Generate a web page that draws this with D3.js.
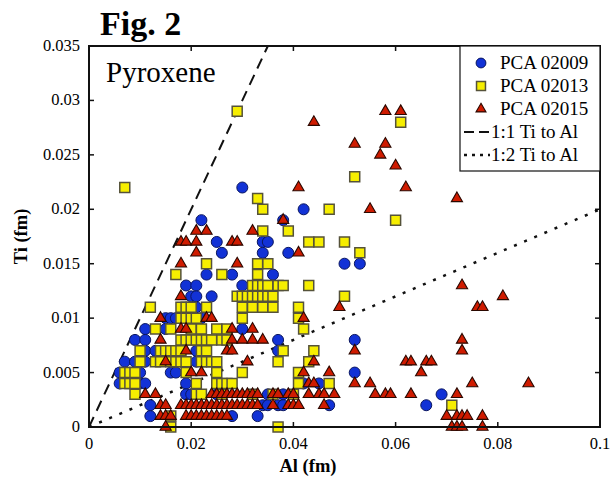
<!DOCTYPE html>
<html>
<head>
<meta charset="utf-8">
<title>Fig. 2 Pyroxene</title>
<script src="https://d3js.org/d3.v7.min.js"></script>
<style>
  body { margin: 0; background: #fff; }
  svg { display: block; font-family: "Liberation Serif", "Times New Roman", serif; }
</style>
</head>
<body>
<svg id="chart" width="615" height="483"></svg>
<script>
// rows of [Ti, [Al values]] in fm
const pca02009 = [
  [0.022, [0.030]],
  [0.020, [0.042]],
  [0.019, [0.022, 0.038]],
  [0.017, [0.025, 0.034, 0.035]],
  [0.016, [0.026, 0.034, 0.039]],
  [0.015, [0.050, 0.053]],
  [0.014, [0.023, 0.028, 0.036]],
  [0.013, [0.019, 0.021, 0.030]],
  [0.012, [0.020, 0.021, 0.024]],
  [0.011, [0.021]],
  [0.010, [0.015, 0.016, 0.017, 0.022]],
  [0.009, [0.011, 0.015, 0.030]],
  [0.008, [0.009, 0.011, 0.037, 0.052]],
  [0.007, [0.011, 0.013, 0.021, 0.037]],
  [0.006, [0.007, 0.009, 0.011, 0.021]],
  [0.005, [0.006, 0.010, 0.016, 0.017, 0.052]],
  [0.004, [0.006, 0.010, 0.011, 0.019, 0.042, 0.045]],
  [0.003, [0.019, 0.020, 0.025, 0.035, 0.038, 0.069]],
  [0.002, [0.012, 0.034, 0.035, 0.037, 0.038, 0.047, 0.066]],
  [0.001, [0.012, 0.028, 0.033]]
];

const pca02013 = [
  [0.029, [0.029]],
  [0.028, [0.061]],
  [0.023, [0.052]],
  [0.022, [0.007]],
  [0.021, [0.033]],
  [0.020, [0.034, 0.047]],
  [0.019, [0.060]],
  [0.018, [0.034, 0.039]],
  [0.017, [0.043, 0.045, 0.050]],
  [0.016, [0.053]],
  [0.015, [0.023, 0.033, 0.035]],
  [0.014, [0.017, 0.026, 0.033]],
  [0.013, [0.032, 0.033, 0.034, 0.035, 0.037, 0.038, 0.043]],
  [0.012, [0.029, 0.030, 0.031, 0.032, 0.033, 0.034, 0.035, 0.036, 0.050]],
  [0.011, [0.012, 0.018, 0.019, 0.020, 0.023, 0.030, 0.032, 0.034, 0.036, 0.041]],
  [0.010, [0.018, 0.019, 0.020, 0.021, 0.030, 0.041]],
  [0.009, [0.013, 0.016, 0.020, 0.022, 0.025, 0.027, 0.042]],
  [0.008, [0.018, 0.019, 0.020, 0.021, 0.022, 0.023, 0.024, 0.026, 0.027]],
  [0.007, [0.010, 0.014, 0.015, 0.016, 0.017, 0.018, 0.022, 0.023, 0.038, 0.044]],
  [0.006, [0.010, 0.013, 0.014, 0.016, 0.017, 0.018, 0.019, 0.022, 0.023, 0.024, 0.025, 0.037, 0.043]],
  [0.005, [0.007, 0.008, 0.009, 0.019, 0.025, 0.030, 0.041]],
  [0.004, [0.007, 0.008, 0.009, 0.021, 0.025, 0.026, 0.027, 0.028, 0.041, 0.047]],
  [0.003, [0.009, 0.021, 0.022, 0.026, 0.032, 0.036, 0.040]],
  [0.002, [0.071]],
  [0.001, [0.016]],
  [0.000, [0.016, 0.037]]
];

const pca02015 = [
  [0.029, [0.058, 0.061]],
  [0.028, [0.044]],
  [0.026, [0.052, 0.058]],
  [0.025, [0.057]],
  [0.024, [0.060]],
  [0.022, [0.041, 0.062]],
  [0.021, [0.072]],
  [0.020, [0.055]],
  [0.019, [0.038]],
  [0.018, [0.021, 0.023, 0.032]],
  [0.017, [0.018, 0.019, 0.021, 0.028, 0.029]],
  [0.016, [0.021, 0.041]],
  [0.015, [0.018, 0.029]],
  [0.013, [0.073]],
  [0.012, [0.018, 0.081]],
  [0.011, [0.049, 0.076, 0.077]],
  [0.010, [0.014, 0.023, 0.024, 0.042]],
  [0.009, [0.018, 0.019, 0.028, 0.032]],
  [0.008, [0.014, 0.028, 0.030, 0.032, 0.034, 0.073]],
  [0.007, [0.019, 0.027, 0.028, 0.052, 0.073]],
  [0.006, [0.015, 0.031, 0.044, 0.062, 0.063, 0.066, 0.067]],
  [0.005, [0.020, 0.022, 0.042, 0.047, 0.065]],
  [0.004, [0.043, 0.044, 0.052, 0.055, 0.075, 0.086]],
  [0.003, [0.011, 0.013, 0.024, 0.025, 0.026, 0.027, 0.028, 0.029, 0.030, 0.031, 0.032, 0.033,
           0.036, 0.037, 0.039, 0.040, 0.043, 0.045, 0.046, 0.048, 0.056, 0.058, 0.059, 0.063, 0.072]],
  [0.002, [0.014, 0.015, 0.018, 0.019, 0.020, 0.021, 0.022, 0.023, 0.024, 0.025, 0.026, 0.027,
           0.028, 0.029, 0.030, 0.031, 0.032, 0.033, 0.036, 0.039, 0.040, 0.041, 0.046]],
  [0.001, [0.014, 0.015, 0.016, 0.019, 0.020, 0.021, 0.022, 0.023, 0.024, 0.025, 0.026, 0.027,
           0.070, 0.072, 0.073, 0.074, 0.077]],
  [0.000, [0.015, 0.071, 0.072, 0.073, 0.077]]
];

// reference lines as [Al, Ti] end points
const line11 = [[0, 0], [0.035, 0.035]];
const line12 = [[0, 0], [0.1, 0.02]];

const xTicks = [0, 0.02, 0.04, 0.06, 0.08, 0.1];
const xTickLabels = ["0", "0.02", "0.04", "0.06", "0.08", "0.1"];
const yTicks = [0, 0.005, 0.01, 0.015, 0.02, 0.025, 0.03, 0.035];
const yTickLabels = ["0", "0.005", "0.01", "0.015", "0.02", "0.025", "0.03", "0.035"];

const legendLabels = ["PCA 02009", "PCA 02013", "PCA 02015", "1:1 Ti to Al", "1:2 Ti to Al"];

// flatten rows into points
const toPoints = rows => rows.flatMap(([ti, als]) => als.map(al => ({al: al, ti: ti})));

const svg = d3.select("#chart");
const plotL = 89, plotR = 600, plotT = 46, plotB = 427;

const x = d3.scaleLinear().domain([0, 0.1]).range([plotL, plotR]);
const y = d3.scaleLinear().domain([0, 0.035]).range([plotB, plotT]);

svg.append("defs").append("clipPath").attr("id", "plotclip")
    .append("rect")
    .attr("x", plotL).attr("y", plotT)
    .attr("width", plotR - plotL).attr("height", plotB - plotT);

// title
svg.append("text")
    .attr("x", 100).attr("y", 35)
    .attr("font-size", 34).attr("font-weight", "bold")
    .text("Fig. 2");

// reference lines
const lineGen = d3.line().x(d => x(d[0])).y(d => y(d[1]));
const lines = svg.append("g").attr("clip-path", "url(#plotclip)");
lines.append("path")
    .attr("d", lineGen(line11))
    .attr("stroke", "#111").attr("stroke-width", 2)
    .attr("stroke-dasharray", "11,7").attr("fill", "none");
lines.append("path")
    .attr("d", lineGen(line12))
    .attr("stroke", "#111").attr("stroke-width", 2.5)
    .attr("stroke-dasharray", "3,8").attr("fill", "none");

// series styles
const series = [
  {data: toPoints(pca02009), type: d3.symbolCircle, size: 95, fill: "#1232d6", stroke: "#0a1660", sw: 1},
  {data: toPoints(pca02013), type: d3.symbolSquare, size: 100, fill: "#f6ee00", stroke: "#55523a", sw: 1.5},
  {data: toPoints(pca02015), type: d3.symbolTriangle, size: 54, fill: "#cf1b00", stroke: "#2a0800", sw: 1.1}
];

series.forEach(s => {
  svg.append("g")
    .selectAll("path")
    .data(s.data)
    .join("path")
    .attr("transform", d => `translate(${x(d.al)},${y(d.ti)})`)
    .attr("d", d3.symbol().type(s.type).size(s.size))
    .attr("fill", s.fill)
    .attr("stroke", s.stroke)
    .attr("stroke-width", s.sw);
});

// frame
svg.append("rect")
    .attr("x", plotL).attr("y", plotT)
    .attr("width", plotR - plotL).attr("height", plotB - plotT)
    .attr("fill", "none").attr("stroke", "#111").attr("stroke-width", 2);

// ticks (inward, on all sides)
const ticks = svg.append("g").attr("stroke", "#111").attr("stroke-width", 1.5);
ticks.append("g").selectAll("line").data(yTicks).join("line")
    .attr("x1", plotL).attr("x2", plotL + 5)
    .attr("y1", d => y(d)).attr("y2", d => y(d));
ticks.append("g").selectAll("line").data(yTicks).join("line")
    .attr("x1", plotR).attr("x2", plotR - 5)
    .attr("y1", d => y(d)).attr("y2", d => y(d));
ticks.append("g").selectAll("line").data(xTicks).join("line")
    .attr("x1", d => x(d)).attr("x2", d => x(d))
    .attr("y1", plotB).attr("y2", plotB - 5);
ticks.append("g").selectAll("line").data(xTicks).join("line")
    .attr("x1", d => x(d)).attr("x2", d => x(d))
    .attr("y1", plotT).attr("y2", plotT + 5);

// tick labels
svg.append("g").selectAll("text").data(yTicks).join("text")
    .attr("x", plotL - 9).attr("y", d => y(d) + 5)
    .attr("text-anchor", "end").attr("font-size", 16.5)
    .text((d, i) => yTickLabels[i]);
svg.append("g").selectAll("text").data(xTicks).join("text")
    .attr("x", d => x(d)).attr("y", plotB + 22)
    .attr("text-anchor", "middle").attr("font-size", 16.5)
    .text((d, i) => xTickLabels[i]);

// axis titles
svg.append("text")
    .attr("x", 308).attr("y", 472)
    .attr("text-anchor", "middle").attr("font-size", 18.5).attr("font-weight", "bold")
    .text("Al (fm)");
svg.append("text")
    .attr("transform", `translate(27,${(plotT + plotB) / 2}) rotate(-90)`)
    .attr("text-anchor", "middle").attr("font-size", 18.5).attr("font-weight", "bold")
    .text("Ti (fm)");

// panel label
svg.append("text")
    .attr("x", 106).attr("y", 82)
    .attr("font-size", 29)
    .text("Pyroxene");

// legend
const lgX = 460, lgY = plotT, lgW = plotR - 460, lgH = 125;
const legend = svg.append("g");
legend.append("rect")
    .attr("x", lgX).attr("y", lgY).attr("width", lgW).attr("height", lgH)
    .attr("fill", "#fff").attr("stroke", "#111").attr("stroke-width", 1.2);

const rowY = i => lgY + 17 + i * 23;
series.forEach((s, i) => {
  legend.append("path")
    .attr("transform", `translate(${lgX + 21},${rowY(i)})`)
    .attr("d", d3.symbol().type(s.type).size(s.size * 0.8))
    .attr("fill", s.fill).attr("stroke", s.stroke).attr("stroke-width", s.sw);
});
legend.append("line")
    .attr("x1", lgX + 4).attr("x2", lgX + 30)
    .attr("y1", rowY(3)).attr("y2", rowY(3))
    .attr("stroke", "#111").attr("stroke-width", 2).attr("stroke-dasharray", "10,5");
legend.append("line")
    .attr("x1", lgX + 4).attr("x2", lgX + 30)
    .attr("y1", rowY(4)).attr("y2", rowY(4))
    .attr("stroke", "#111").attr("stroke-width", 2.5).attr("stroke-dasharray", "3,5");

legend.selectAll("text").data(legendLabels).join("text")
    .attr("x", (d, i) => i < 3 ? lgX + 40 : lgX + 31)
    .attr("y", (d, i) => rowY(i) + 6)
    .attr("font-size", 19)
    .text(d => d);
</script>
</body>
</html>
